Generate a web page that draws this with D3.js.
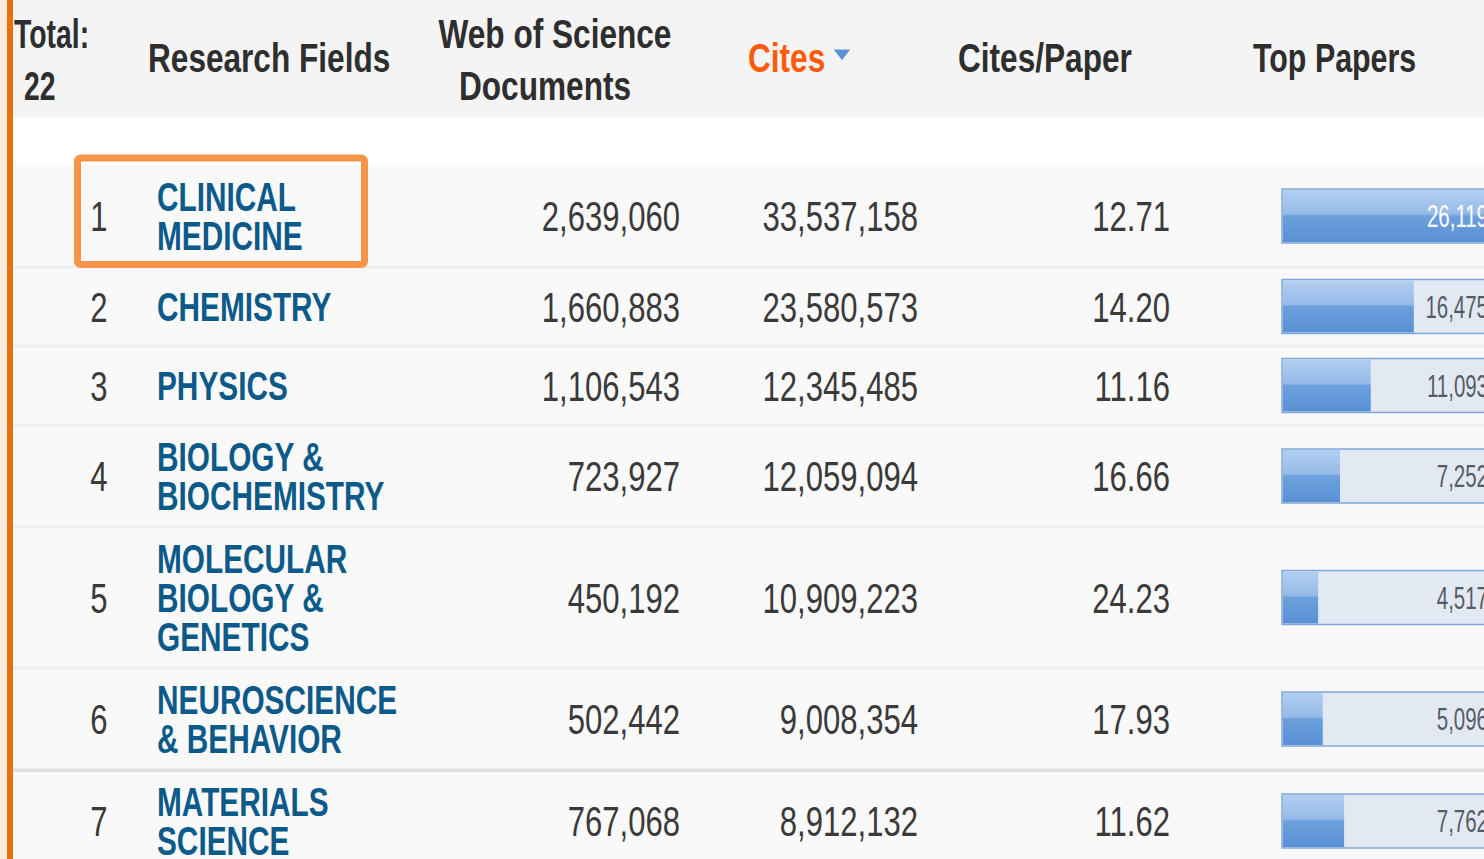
<!DOCTYPE html>
<html><head><meta charset="utf-8">
<script src="https://cdn.jsdelivr.net/npm/d3@7"></script>
<style>
html,body{margin:0;padding:0;background:#fff;overflow:hidden;}
svg{display:block;font-family:"Liberation Sans",Arial,sans-serif;}
</style></head>
<body>
<svg id="chart" width="1484" height="859"></svg>
<script>
// ---- data ----
const totalLabel = ["Total:", "22"];
const headers = ["Research Fields", "Web of Science\nDocuments", "Cites", "Cites/Paper", "Top Papers"];
const ranks = [1, 2, 3, 4, 5, 6, 7];
const fields = ["CLINICAL\nMEDICINE", "CHEMISTRY", "PHYSICS", "BIOLOGY &\nBIOCHEMISTRY",
  "MOLECULAR\nBIOLOGY &\nGENETICS", "NEUROSCIENCE\n& BEHAVIOR", "MATERIALS\nSCIENCE"];
const wosDocs = [2639060, 1660883, 1106543, 723927, 450192, 502442, 767068];
const cites = [33537158, 23580573, 12345485, 12059094, 10909223, 9008354, 8912132];
const citesPerPaper = [12.71, 14.20, 11.16, 16.66, 24.23, 17.93, 11.62];
const topPapers = [26119, 16475, 11093, 7252, 4517, 5096, 7762];

// ---- layout ----
const W = 1484, H = 859;
const svg = d3.select("#chart");
const headerH = 117, bodyTop = 165, lineH = 39;
const rankX = 99, fieldX = 157, docsR = 680, citesR = 918, cppR = 1170;
const barX = 1282, barW = 209, barH = 54;
const numSize = 42;
const defs = svg.append("defs");
const g1 = defs.append("linearGradient").attr("id", "barFill").attr("x1", 0).attr("y1", 0).attr("x2", 0).attr("y2", 1);
[["0%", "#b2cff1"], ["46%", "#96bae8"], ["50%", "#6ca0dd"], ["100%", "#5a91d5"]].forEach(([o, c]) =>
  g1.append("stop").attr("offset", o).attr("stop-color", c));

// background
svg.append("rect").attr("width", W).attr("height", H).attr("fill", "#ffffff");
svg.append("rect").attr("width", W).attr("height", headerH).attr("fill", "#f4f4f4");

// row geometry from line counts
const lines = fields.map(f => f.split("\n"));
const rowHeights = lines.map(l => Math.max(l.length * lineH + 24, 79));
const rowTops = [];
rowHeights.reduce((acc, h) => { rowTops.push(acc); return acc + h; }, bodyTop);

svg.append("rect").attr("x", 0).attr("y", bodyTop).attr("width", W).attr("height", H - bodyTop).attr("fill", "#f9f9f9");

// separators
rowTops.slice(1).forEach((t, i) => {
  const strong = i === 5;
  svg.append("rect").attr("x", 0).attr("y", t - 1.5).attr("width", W).attr("height", strong ? 3.5 : 3)
    .attr("fill", strong ? "#e0e0e0" : "#ededed");
});

function txt(sel, s, x, y, opt) {
  return sel.append("text")
    .attr("transform", `translate(${x},${y}) scale(${opt.sx || 0.74},1)`)
    .attr("text-anchor", opt.anchor || "start")
    .attr("font-size", opt.size || numSize)
    .attr("font-weight", opt.bold ? "bold" : "normal")
    .attr("fill", opt.color || "#333")
    .text(s);
}

// header
const hdr = svg.append("g");
const hOpt = { bold: true, size: 40, sx: 0.79, color: "#2e2e2e" };
txt(hdr, totalLabel[0], 14, 48, { ...hOpt, sx: 0.71 });
txt(hdr, totalLabel[1], 24, 100, { ...hOpt, sx: 0.71 });
txt(hdr, headers[0], 148, 72, hOpt);
const wos = headers[1].split("\n");
txt(hdr, wos[0], 555, 48, { ...hOpt, anchor: "middle" });
txt(hdr, wos[1], 545, 100, { ...hOpt, anchor: "middle" });
txt(hdr, headers[2], 748, 72, { ...hOpt, color: "#ff5a0a" });
hdr.append("path").attr("d", d3.symbol(d3.symbolTriangle, 90)()).attr("fill", "#5b8fd6")
  .attr("transform", "translate(842,53) rotate(180) scale(1.15,0.85)");
txt(hdr, headers[3], 958, 72, hOpt);
txt(hdr, headers[4], 1253, 72, { ...hOpt, sx: 0.76 });

// scales / formats
const x = d3.scaleLinear().domain([0, d3.max(topPapers)]).range([0, barW]);
const fmtInt = d3.format(","), fmtDec = d3.format(".2f");

const rows = svg.append("g").selectAll("g").data(ranks).join("g")
  .attr("transform", (d, i) => `translate(0,${rowTops[i] + rowHeights[i] / 2})`);

rows.each(function (d, i) {
  const g = d3.select(this);
  txt(g, String(d), rankX, 15, { anchor: "middle", color: "#3a3a3a" });
  const ls = lines[i];
  const ft = g.append("text")
    .attr("transform", `translate(${fieldX},${14.5 - (ls.length - 1) / 2 * lineH}) scale(0.745,1)`)
    .attr("font-size", 40).attr("font-weight", "bold").attr("fill", "#0c5a8a");
  ls.forEach((l, j) => {
    ft.append("tspan").attr("x", 0).attr("dy", j === 0 ? 0 : lineH).text(l);
  });
  txt(g, fmtInt(wosDocs[i]), docsR, 15, { anchor: "end", color: "#3a3a3a" });
  txt(g, fmtInt(cites[i]), citesR, 15, { anchor: "end", color: "#3a3a3a" });
  txt(g, fmtDec(citesPerPaper[i]), cppR, 15, { anchor: "end", color: "#3a3a3a" });
  // bar
  g.append("rect").attr("x", barX).attr("y", -barH / 2).attr("width", barW).attr("height", barH)
    .attr("fill", "#e2e9f3").attr("stroke", "#80a7d9").attr("stroke-width", 1.5);
  g.append("rect").attr("x", barX + 1).attr("y", -barH / 2 + 1).attr("width", Math.max(0, x(topPapers[i]) - 1)).attr("height", barH - 2)
    .attr("fill", "url(#barFill)");
  const full = x(topPapers[i]) >= barW - 1;
  txt(g, fmtInt(topPapers[i]), barX + barW - 3, 11, { anchor: "end", size: 31, sx: 0.66, color: full ? "#ffffff" : "#555c66" });
});

// highlight box around first field
const r0 = rowTops[0];
svg.append("rect").attr("x", 77.5).attr("y", r0 - 7).attr("width", 287).attr("height", rowHeights[0] + 4.5)
  .attr("rx", 3).attr("fill", "none").attr("stroke", "#f6954a").attr("stroke-width", 7);

// left accent stripe
svg.append("rect").attr("x", 0).attr("y", 0).attr("width", 7).attr("height", H).attr("fill", "#fde9dc");
svg.append("rect").attr("x", 7).attr("y", 0).attr("width", 6).attr("height", H).attr("fill", "#e8700f");
</script>
</body></html>
